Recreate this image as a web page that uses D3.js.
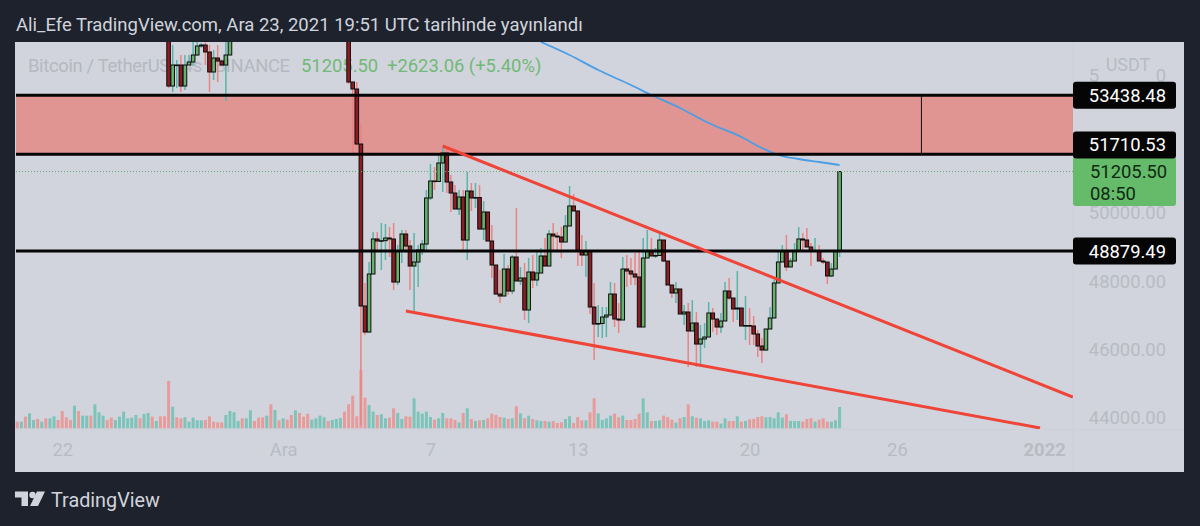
<!DOCTYPE html>
<html>
<head>
<meta charset="utf-8">
<script src="https://cdn.jsdelivr.net/npm/d3@7"></script>
<style>
    html, body { margin: 0; padding: 0; background: #1e222d; overflow: hidden; }
    text { font-family: Roboto, sans-serif; }
</style>
</head>
<body>
<div id="container"></div>
<script>
"use strict"

let svg;
let xScale;
let yScale;
let volumeScale;

const width = 1200;
const height = 526;

// texts
const titleText = "Ali_Efe TradingView.com, Ara 23, 2021 19:51 UTC tarihinde yayınlandı";
const symbolText = "Bitcoin / TetherUS · 4s · BINANCE";
const priceText = "51205.50";
const changeText = "+2623.06 (+5.40%)";
const countdownText = "08:50";

// price axis
const priceTicks = [44000, 46000, 48000, 50000, 54000];

// time axis, in bars
const timeTickBars = [11, 65, 101, 137, 179, 215, 251];
const timeTickLabels = ["22", "Ara", "7", "13", "20", "26", "2022"];

// horizontal levels
const levels = [53438.48, 51710.53, 48879.49];
const lastPrice = 51205.50;

// first run of candles, the rest of that stretch is above the pane
const earlyStart = 37;
const earlyFirstOpen = 55600;
const earlyCloses = [53707, 54321, 54321, 53707, 54321, 54409, 54614, 54877, 54906, 54702, 54117, 54526, 54438, 54321, 54614, 55345];
const earlyHighs = [55600, 54906, 54468, 54614, 54614, 54614, 54994, 55053, 54965, 54994, 54906, 54760, 54906, 54468, 55053, 55345];
const earlyLows = [53649, 53532, 53649, 53532, 53590, 54321, 54292, 54585, 54819, 54321, 53532, 53883, 53824, 54292, 53269, 54614];

// main run of candles, up to the last bar
const lateStart = 81;
const lateFirstOpen = 55637;
const closes = [
    53824, 53620, 52011, 47275, 46514, 48210, 49234, 49175, 49185, 49263,
    49234, 47976, 48883, 49380, 49029, 48444, 48561, 48912, 49087, 50433,
    50930, 50915, 51456, 51748, 50900, 50579, 50111, 50462, 49204, 50637,
    50433, 50447, 49526, 50023, 49175, 48473, 47625, 47567, 48356, 47713,
    48707, 48006, 48093, 47158, 48269, 48035, 48239, 48737, 48444, 49380,
    49321, 49292, 49146, 49614, 50199, 50052, 48883, 48766, 48883, 47245,
    46748, 46763, 46953, 47011, 47625, 46894, 46865, 48356, 48298, 48210,
    48122, 46661, 48678, 48883, 48737, 48751, 49204, 48590, 47889, 47655,
    47772, 47041, 47099, 46544, 46777, 46163, 46310, 46368, 47070, 46894,
    46661, 46836, 47713, 47508, 47187, 47216, 46690, 46704, 46690, 46456,
    46105, 45988, 46602, 46924, 47947, 48561, 48883, 48415, 48590, 48883,
    49234, 49204, 49000, 48883, 48897, 48590, 48561, 48152, 48356, 48883,
    51205.5
];
const highs = [
    55637, 53824, 53824, 52596, 47947, 48561, 49438, 49438, 49701, 49672,
    49585, 49701, 49058, 49497, 49497, 49204, 49409, 49058, 49204, 50666,
    51427, 51339, 51690, 51953, 51895, 51105, 50813, 50666, 50666, 51193,
    50871, 50871, 50813, 50345, 50023, 49643, 48473, 48327, 48795, 48473,
    48766, 50140, 48415, 48532, 48678, 48766, 48912, 48970, 49263, 49497,
    49701, 49438, 49585, 49935, 50783, 50549, 50082, 49351, 49175, 48883,
    47947, 47304, 47245, 47245, 47976, 47947, 47362, 48707, 48766, 48678,
    48824, 48912, 49263, 49497, 49263, 48970, 49438, 49204, 48590, 47889,
    47976, 47772, 47304, 47362, 47450, 47099, 46719, 46777, 47392, 47216,
    46894, 47070, 47976, 48093, 47508, 48298, 47216, 47567, 47216, 46982,
    46573, 46339, 46602, 47245, 48035, 48853, 49058, 49351, 48678, 49117,
    49585, 49409, 49555, 49117, 49263, 49058, 48678, 48532, 48532, 48883,
    51220
];
const lows = [
    53766, 51690, 51953, 43795, 46427, 46485, 48327, 48912, 48327, 48620,
    48707, 47742, 47889, 48532, 48824, 47742, 47099, 47830, 48766, 48912,
    50374, 50666, 50930, 50608, 50579, 50023, 50111, 49935, 48853, 48620,
    50052, 50140, 49497, 49204, 49175, 48093, 47596, 47362, 47567, 47596,
    47625, 48006, 47889, 46865, 46777, 47801, 47859, 48239, 48444, 48444,
    48853, 48912, 48678, 49146, 49614, 50052, 48444, 48444, 48122, 47041,
    45696, 46368, 46339, 46368, 47011, 46661, 46485, 46865, 47830, 47889,
    47889, 46661, 46661, 48678, 48737, 48678, 48737, 48561, 47889, 47508,
    47362, 47041, 46719, 45491, 46544, 45491, 45491, 46046, 46865, 46514,
    46427, 46485, 47713, 47450, 46807, 46865, 46690, 46280, 46134, 46134,
    45783, 45608, 45959, 46631, 46924, 47947, 48561, 48298, 48415, 48590,
    48883, 48912, 49000, 48444, 48883, 48590, 48503, 47918, 48122, 48356,
    48707
];

// volume of every bar, relative units
const volumes = [
    20, 20, 35, 45, 25, 28, 20, 30, 30, 36, 25, 52, 33, 25, 68, 52, 38, 38, 38, 72,
    48, 38, 25, 32, 25, 35, 50, 30, 32, 40, 30, 43, 46, 35, 22, 36, 36, 142, 65, 33,
    30, 33, 20, 32, 24, 24, 25, 36, 20, 18, 18, 40, 52, 48, 22, 30, 30, 54, 22, 32,
    33, 38, 72, 55, 24, 30, 26, 40, 54, 46, 35, 44, 26, 30, 38, 33, 22, 25, 28, 31,
    50, 72, 98, 36, 175, 92, 70, 50, 40, 42, 30, 32, 60, 46, 28, 36, 35, 90, 50, 44,
    50, 34, 26, 30, 46, 30, 30, 25, 18, 46, 60, 28, 22, 24, 25, 30, 44, 40, 34, 32,
    28, 30, 66, 45, 30, 38, 28, 24, 22, 22, 20, 22, 16, 18, 28, 36, 16, 34, 24, 24,
    48, 90, 45, 25, 30, 38, 44, 33, 38, 25, 25, 28, 44, 90, 48, 22, 22, 24, 38, 34,
    26, 17, 30, 34, 72, 36, 32, 30, 22, 24, 20, 20, 14, 30, 22, 22, 36, 20, 22, 27,
    28, 34, 36, 33, 34, 30, 48, 32, 42, 22, 22, 22, 20, 28, 30, 20, 26, 30, 20, 20,
    24, 64
];
// colour of the bars before the main run, 1 = up
const earlyVolumeUp = [
    0, 1, 0, 1, 1, 0, 1, 0, 1, 1, 0, 0, 0, 0, 1, 0, 1, 1, 0, 1,
    1, 1, 0, 0, 1, 1, 1, 1, 1, 1, 0, 1, 1, 0, 1, 0, 0, 0, 1, 0,
    0, 1, 1, 1, 1, 1, 0, 0, 0, 0, 0, 1, 1, 1, 1, 0, 1, 1, 0, 0,
    0, 1, 0, 1, 0, 1, 0, 0, 1, 0, 0, 0, 1, 1, 1, 1, 0, 1, 1, 1,
    0
];

// moving average
const averageBars = [128, 135, 142, 150, 155, 162, 169, 177, 182, 186, 191, 196, 201];
const averageValues = [54994, 54614, 54175, 53737, 53444, 53064, 52625, 52216, 51894, 51690, 51573, 51485, 51397];

// trend lines, [bar, price] at both ends
const upperTrend = [[104, 51953], [258, 44614]];
const lowerTrend = [[95, 47128], [250, 43707]];

// box drawn on the chart
const boxLine = { bar: 221, from: levels[0], to: levels[1] };


function Main()
{
    CreateSVG();
    CreateScales();
    DrawFrame();
    DrawLegend();
    DrawZone();
    DrawVolumes();
    DrawCandles();
    DrawLines();
    DrawAxes();
    DrawLabels();
    DrawBranding();

    document.getElementById("container").append(svg.node());
};


function CreateSVG()
{
    svg = d3.create("svg")
        .attr("width", width)
        .attr("height", height)
        .style("display", "block");

    svg.append("clipPath")
        .attr("id", "plot")
        .append("rect")
        .attr("x", 15)
        .attr("y", 42)
        .attr("width", 1058)
        .attr("height", 387);
};


function CreateScales()
{
    xScale = d3.scaleLinear().domain([0, 201]).range([17.2, 839.6]);
    yScale = d3.scaleLinear().domain([44000, 54000]).range([418, 76]);
    volumeScale = d3.scaleLinear().domain([0, d3.max(volumes)]).range([428.3, 370]);
};


function BuildCandles(start, firstOpen, closeList, highList, lowList)
{
    return closeList.map((close, i) => ({
        bar: start + i,
        open: i == 0 ? firstOpen : closeList[i - 1],
        close: close,
        high: highList[i],
        low: lowList[i]
    }));
};


function DrawFrame()
{
    svg.append("rect")
        .attr("x", 15)
        .attr("y", 42)
        .attr("width", 1169)
        .attr("height", 430)
        .attr("fill", "#d1d4dc");

    svg.append("line")
        .attr("x1", 1073).attr("x2", 1073)
        .attr("y1", 42).attr("y2", 472)
        .attr("stroke", "#cdd0d9");

    svg.append("line")
        .attr("x1", 15).attr("x2", 1184)
        .attr("y1", 429.5).attr("y2", 429.5)
        .attr("stroke", "#cdd0d9");

    svg.append("text")
        .attr("x", 16)
        .attr("y", 31)
        .attr("fill", "#d1d4dc")
        .attr("font-size", 18.5)
        .text(titleText);
};


function DrawLegend()
{
    const legend = svg.append("g").attr("font-size", 18.4);

    legend.append("text")
        .attr("x", 28).attr("y", 72)
        .attr("fill", "#b5b8c1")
        .attr("textLength", 262)
        .text(symbolText);

    legend.append("text")
        .attr("x", 301).attr("y", 72)
        .attr("fill", "#72b977")
        .text(priceText);

    legend.append("text")
        .attr("x", 387).attr("y", 72)
        .attr("fill", "#72b977")
        .text(changeText);
};


function DrawZone()
{
    svg.append("rect")
        .attr("x", 16)
        .attr("width", 1057)
        .attr("y", yScale(levels[0]))
        .attr("height", yScale(levels[1]) - yScale(levels[0]))
        .attr("fill", "#e09593");
};


function DrawVolumes()
{
    svg.append("g")
        .selectAll("rect")
        .data(volumes)
        .enter()
        .append("rect")
        .attr("x", (_, i) => xScale(i) - 1.5)
        .attr("width", 3)
        .attr("y", d => volumeScale(d))
        .attr("height", d => volumeScale(0) - volumeScale(d))
        .attr("fill", (_, i) => IsVolumeUp(i) ? "#7cc4ba" : "#e79b9a");
};


function IsVolumeUp(i)
{
    if(i < lateStart) return earlyVolumeUp[i] == 1;

    const k = i - lateStart;
    const open = k == 0 ? lateFirstOpen : closes[k - 1];
    return closes[k] >= open;
};


function DrawCandles()
{
    const candles = BuildCandles(earlyStart, earlyFirstOpen, earlyCloses, earlyHighs, earlyLows)
        .concat(BuildCandles(lateStart, lateFirstOpen, closes, highs, lows));

    const group = svg.append("g").attr("clip-path", "url(#plot)");

    group.append("g")
        .selectAll("line")
        .data(candles)
        .enter()
        .append("line")
        .attr("x1", d => xScale(d.bar))
        .attr("x2", d => xScale(d.bar))
        .attr("y1", d => yScale(d.high))
        .attr("y2", d => yScale(d.low))
        .attr("stroke", d => d.close >= d.open ? "#5cb3a8" : "#e98484")
        .attr("stroke-width", 1.5);

    group.append("g")
        .selectAll("rect")
        .data(candles)
        .enter()
        .append("rect")
        .attr("x", d => xScale(d.bar) - 1.8)
        .attr("width", 3.6)
        .attr("y", d => yScale(Math.max(d.open, d.close)))
        .attr("height", d => Math.max(0.6, Math.abs(yScale(d.open) - yScale(d.close))))
        .attr("fill", d => d.close >= d.open ? "#66b26c" : "#8e1c22")
        .attr("stroke", "#0c0c0c")
        .attr("stroke-width", 1);
};


function DrawLines()
{
    const group = svg.append("g").attr("clip-path", "url(#plot)");

    // thin dotted line of the last price
    group.append("line")
        .attr("x1", 16).attr("x2", 1073)
        .attr("y1", yScale(lastPrice)).attr("y2", yScale(lastPrice))
        .attr("stroke", "#5fb36d")
        .attr("stroke-dasharray", "1 2");

    const averageLine = d3.line()
        .x((_, i) => xScale(averageBars[i]))
        .y(d => yScale(d))
        .curve(d3.curveMonotoneX);

    group.append("path")
        .attr("d", averageLine(averageValues))
        .attr("fill", "none")
        .attr("stroke", "#4a9ee6")
        .attr("stroke-width", 1.8);

    group.selectAll(".level")
        .data(levels)
        .enter()
        .append("line")
        .attr("class", "level")
        .attr("x1", 16).attr("x2", 1073)
        .attr("y1", d => yScale(d)).attr("y2", d => yScale(d))
        .attr("stroke", "#050505")
        .attr("stroke-width", 3);

    group.append("line")
        .attr("x1", xScale(boxLine.bar)).attr("x2", xScale(boxLine.bar))
        .attr("y1", yScale(boxLine.from)).attr("y2", yScale(boxLine.to))
        .attr("stroke", "#111111")
        .attr("stroke-width", 1);

    group.selectAll(".trend")
        .data([upperTrend, lowerTrend])
        .enter()
        .append("line")
        .attr("class", "trend")
        .attr("x1", d => xScale(d[0][0])).attr("y1", d => yScale(d[0][1]))
        .attr("x2", d => xScale(d[1][0])).attr("y2", d => yScale(d[1][1]))
        .attr("stroke", "#ef4438")
        .attr("stroke-width", 3);
};


function DrawAxes()
{
    const priceAxis = d3.axisRight(yScale)
        .tickValues(priceTicks)
        .tickSize(0)
        .tickPadding(0)
        .tickFormat(d3.format(".2f"));

    const priceGroup = svg.append("g")
        .attr("transform", "translate(1166,0)")
        .call(priceAxis);

    priceGroup.select(".domain").remove();
    priceGroup.selectAll("text")
        .attr("text-anchor", "end")
        .attr("fill", "#b8bbc4")
        .attr("font-size", 18.4);

    // the unit label hides the middle of the top tick
    svg.append("rect")
        .attr("x", 1100).attr("y", 52)
        .attr("width", 55).attr("height", 30)
        .attr("fill", "#d1d4dc");

    svg.append("text")
        .attr("x", 1128).attr("y", 71)
        .attr("text-anchor", "middle")
        .attr("fill", "#b8bbc4")
        .attr("font-size", 18)
        .text("USDT");

    const timeAxis = d3.axisBottom(xScale)
        .tickValues(timeTickBars)
        .tickSize(0)
        .tickPadding(14)
        .tickFormat((_, i) => timeTickLabels[i]);

    const timeGroup = svg.append("g")
        .attr("transform", "translate(0,429)")
        .call(timeAxis);

    timeGroup.select(".domain").remove();
    timeGroup.selectAll("text")
        .attr("fill", "#b8bbc4")
        .attr("font-size", 18.4)
        .attr("font-weight", (_, i) => timeTickLabels[i] == "2022" ? 700 : 400);
};


function DrawLabels()
{
    svg.append("path")
        .attr("d", "M1073 158H1176V203a3 3 0 0 1 -3 3H1076a3 3 0 0 1 -3 -3Z")
        .attr("fill", "#66bb6a");

    svg.append("text")
        .attr("x", 1090).attr("y", 177.5)
        .attr("fill", "#0f2a12")
        .attr("font-size", 18.4)
        .text(priceText);

    svg.append("text")
        .attr("x", 1090).attr("y", 199.5)
        .attr("fill", "#0f2a12")
        .attr("font-size", 18.4)
        .text(countdownText);

    // the middle label is pushed up to clear the last price box
    const boxes = svg.append("g")
        .selectAll("g")
        .data(levels)
        .enter()
        .append("g")
        .attr("transform", (d, i) => `translate(1073,${yScale(d) - (i == 1 ? 9.3 : 0)})`);

    boxes.append("rect")
        .attr("y", -13.5)
        .attr("width", 103)
        .attr("height", 27)
        .attr("rx", 3)
        .attr("fill", "#050505");

    boxes.append("text")
        .attr("x", 93)
        .attr("y", 6.5)
        .attr("text-anchor", "end")
        .attr("fill", "#ffffff")
        .attr("font-size", 18.4)
        .text(d => d.toFixed(2));
};


function DrawBranding()
{
    const logo = svg.append("g").attr("fill", "#d1d4dc");

    logo.append("path").attr("d", "M15 491.5H28V506H21.5V497.5H15Z");
    logo.append("circle").attr("cx", 32.5).attr("cy", 495).attr("r", 3.2);
    logo.append("path").attr("d", "M37 491.5H45L38 506H30Z");

    svg.append("text")
        .attr("x", 51)
        .attr("y", 506.5)
        .attr("fill", "#d1d4dc")
        .attr("font-size", 19.8)
        .text("TradingView");
};


Main();
</script>
</body>
</html>
